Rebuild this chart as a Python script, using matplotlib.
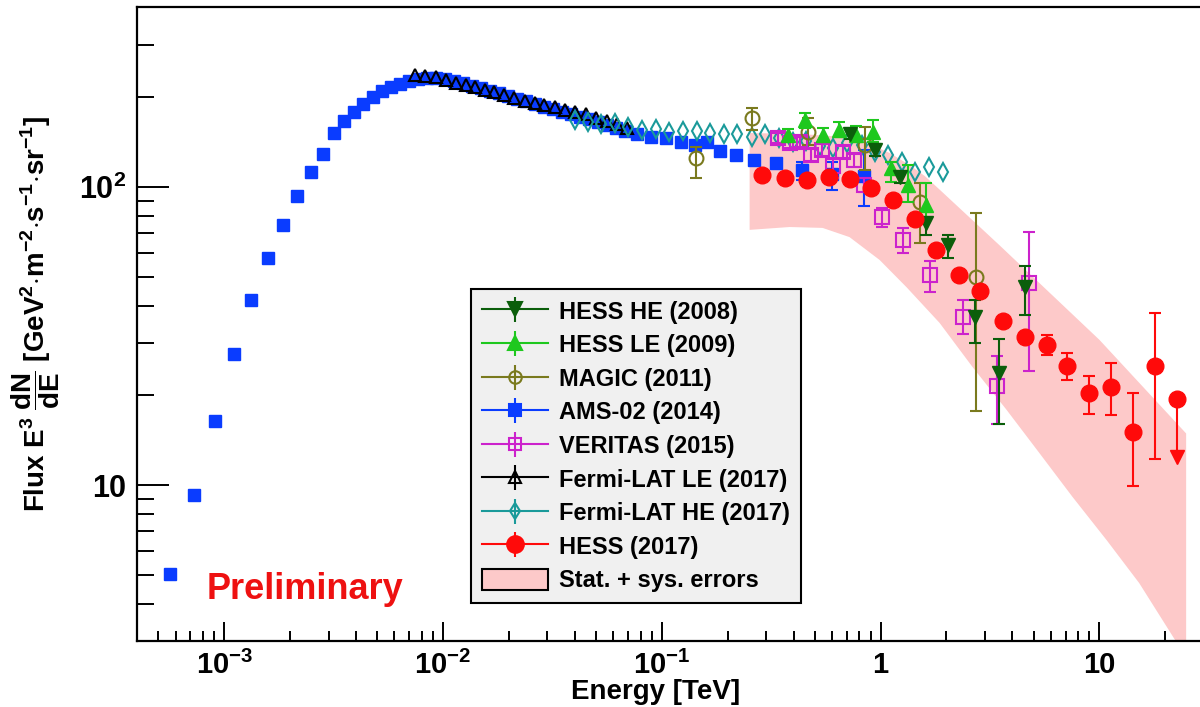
import numpy as np
import matplotlib
matplotlib.use("Agg")
import matplotlib.pyplot as plt
from matplotlib.lines import Line2D
from matplotlib.patches import Patch
from matplotlib.ticker import FixedLocator, LogLocator, NullFormatter

plt.rcParams['font.family'] = ['Liberation Sans', 'DejaVu Sans']
plt.rcParams['font.weight'] = 'bold'
plt.rcParams['mathtext.fontset'] = 'custom'
plt.rcParams['mathtext.rm'] = 'Liberation Sans:bold'
plt.rcParams['mathtext.it'] = 'Liberation Sans:bold'
plt.rcParams['mathtext.bf'] = 'Liberation Sans:bold'
plt.rcParams['mathtext.sf'] = 'Liberation Sans:bold'
plt.rcParams['mathtext.default'] = 'rm'

# ---- data (E in TeV, flux E^3 dN/dE) ----
ams_E = [5.67e-4, 7.30e-4, 9.10e-4, 1.11e-3, 1.33e-3, 1.59e-3, 1.86e-3, 2.15e-3,
         2.50e-3, 2.83e-3, 3.18e-3, 3.53e-3, 3.92e-3, 4.31e-3, 4.79e-3, 5.27e-3,
         5.79e-3, 6.36e-3, 7.00e-3, 7.69e-3, 8.45e-3, 9.29e-3, 1.02e-2, 1.12e-2,
         1.23e-2, 1.36e-2, 1.49e-2, 1.64e-2, 1.80e-2, 1.98e-2, 2.18e-2, 2.39e-2,
         2.63e-2, 2.89e-2, 3.18e-2, 3.49e-2, 3.84e-2, 4.22e-2, 4.64e-2, 5.10e-2,
         5.61e-2, 6.17e-2, 6.78e-2, 7.69e-2, 8.91e-2, 0.104, 0.123, 0.142,
         0.161, 0.184, 0.218, 0.263, 0.332, 0.436, 0.598, 0.836]
ams_F = [5.03, 9.26, 16.4, 27.5, 41.8, 57.8, 74.6, 93.3,
         112.3, 129.0, 151.8, 166.5, 178.5, 189.8, 200.5, 210.0,
         216.6, 221.6, 226.8, 230.3, 232.1, 232.1, 230.3, 226.8,
         223.4, 218.3, 214.9, 210.0, 206.8, 202.0, 197.4, 194.3,
         189.8, 185.6, 182.7, 178.5, 175.8, 171.8, 169.1, 165.2,
         161.5, 157.8, 154.1, 150.6, 147.2, 146.0, 141.6, 138.4,
         141.6, 132.1, 128.0, 123.2, 120.4, 114.0, 110.6, 108.9]
ams_err_E = [0.436, 0.598, 0.836]
ams_err_F = [114.0, 110.6, 108.9]
ams_err_lo = [105.6, 97.7, 86.3]
ams_err_hi = [121.3, 121.3, 133.1]

fle_E = [0.00745, 0.00828, 0.00929, 0.0103, 0.0115, 0.0127, 0.0140, 0.0156,
         0.0171, 0.0190, 0.0211, 0.0237, 0.0263, 0.0289, 0.0325, 0.0361,
         0.0401, 0.0450, 0.0500, 0.0561, 0.0623, 0.0692]
fle_F = [237.6, 235.8, 233.9, 228.6, 223.4, 220.0, 216.6, 211.6,
         208.4, 203.6, 198.9, 194.3, 191.4, 188.4, 185.6, 181.3,
         178.5, 175.8, 170.4, 166.5, 162.7, 157.8]

fhe_E = [0.0401, 0.0459, 0.0527, 0.0610, 0.0700, 0.0811, 0.0940, 0.108,
         0.125, 0.145, 0.166, 0.192, 0.220, 0.258, 0.295, 0.342,
         0.396, 0.455, 0.526, 0.604, 0.700, 0.819, 0.940, 1.08,
         1.25, 1.43, 1.66, 1.92]
fhe_F = [167.8, 165.2, 162.7, 163.9, 159.0, 155.4, 156.5, 152.9,
         154.1, 154.1, 151.8, 150.6, 150.6, 147.2, 150.6, 146.0,
         141.6, 142.7, 137.3, 135.2, 140.5, 138.4, 131.0, 128.0,
         121.3, 112.3, 116.7, 112.3]

mag_E = [0.143, 0.258, 0.465, 0.845, 1.52, 2.74]
mag_F = [125, 170, 153, 138, 89, 49.9]
mag_lo = [107, 155, 138, 114, 64.9, 17.7]
mag_hi = [136, 184, 170, 159, 103, 81.8]

ver_E = [0.339, 0.384, 0.427, 0.479, 0.538, 0.604, 0.670, 0.753,
         0.836, 1.01, 1.26, 1.69, 2.37, 3.39, 4.79]
ver_F = [146, 140.5, 141.6, 128.0, 133, 117.5, 131, 123,
         101.6, 79.3, 66.4, 50.7, 36.7, 21.5, 47.6]
ver_lo = [140, 135, 136, 122, 127, 107, 125, 117,
          96, 73.4, 60.1, 44.5, 32.2, 16.0, 24.2]
ver_hi = [152, 146, 147, 134, 139, 125, 137, 129,
          107, 85.1, 72.8, 56.5, 41.8, 27.1, 70.6]

hle_E = [0.376, 0.450, 0.543, 0.643, 0.769, 0.919, 1.11, 1.33, 1.62]
hle_F = [149.4, 167.9, 149.4, 155, 149.4, 153, 115.8, 101.6, 87]
hle_lo = [143, 158, 141.6, 147, 141.6, 141.6, 104, 89, 78.7]
hle_hi = [156, 177, 158, 165, 160, 168, 121, 118.5, 103]

hhe_E = [0.721, 0.939, 1.22, 1.61, 2.04, 2.69, 3.49, 4.55]
hhe_F = [150.6, 133, 108, 75.7, 63.8, 36.7, 23.8, 46.2]
hhe_lo = [145, 127, 103, 69.0, 57.8, 30.0, 16.0, 37.2]
hhe_hi = [157, 139, 112, 78.7, 69.0, 41.8, 30.9, 54.3]

hess_E = [0.286, 0.364, 0.459, 0.579, 0.721, 0.90, 1.135, 1.43, 1.80, 2.27,
          2.86, 3.61, 4.55, 5.73, 7.14, 9.0, 11.35, 14.3, 18.0]
hess_F = [110, 107.2, 105.6, 108.0, 106.4, 99.2, 90.4, 78.2, 61.5, 50.7,
          44.8, 35.5, 31.4, 29.5, 25.1, 20.4, 21.3, 15.1, 25.1]
hess_lo = [107, 104, 102.5, 105, 103, 96, 87.7, 75.8, 59.6, 49.2,
           43.4, 34.4, 30.4, 27.3, 22.5, 17.3, 17.2, 9.9, 12.2]
hess_hi = [113, 110.4, 108.8, 111.2, 109.6, 102.2, 93.1, 80.5, 63.3, 52.2,
           46.1, 36.6, 32.4, 31.9, 27.7, 23.2, 25.6, 20.4, 37.7]
hess_ul_E = [22.7]
hess_ul_F = [19.4]
hess_ul_end = [12.4]

band_E_up = [0.252, 0.427, 0.585, 0.721, 0.891, 1.10, 1.357, 1.59, 1.86, 3.49, 10.0, 24.9]
band_F_up = [151.7, 150.6, 148.3, 146.0, 139.3, 130.0, 118.5, 108.9, 98.0, 63.8, 30.7, 14.9]
band_E_lo = [0.252, 0.384, 0.543, 0.721, 0.99, 1.314, 1.86, 2.63, 3.76, 5.32,
             7.54, 10.8, 15.2, 22.5, 24.9]
band_F_lo = [71.8, 73.4, 72.9, 67.9, 56.9, 46.1, 35.0, 24.9, 17.9, 12.8,
             9.12, 6.53, 4.69, 2.97, 2.6]

labels = ["HESS HE (2008)", "HESS LE (2009)", "MAGIC (2011)", "AMS-02 (2014)",
          "VERITAS (2015)", "Fermi-LAT LE (2017)", "Fermi-LAT HE (2017)",
          "HESS (2017)", "Stat. + sys. errors"]

c_hhe = '#0b5e0b'
c_hle = '#1ec81e'
c_mag = '#7a7a1e'
c_ams = '#0a3cff'
c_ver = '#cc22cc'
c_fle = '#000000'
c_fhe = '#1a9a9a'
c_hess = '#ff0a0a'
c_band = '#fdc9c9'

fig = plt.figure(figsize=(12, 7.07), dpi=100)
ax = fig.add_axes([0.1142, 0.0934, 0.889, 0.896])
ax.set_xscale('log')
ax.set_yscale('log')
ax.set_xlim(4e-4, 30)
ax.set_ylim(3, 400)

ebar = dict(elinewidth=1.5, capsize=4, capthick=1.5, linestyle='none')


def yerr(F, lo, hi):
    F = np.array(F)
    return [F - np.array(lo), np.array(hi) - F]


# band
ax.fill(np.concatenate([band_E_up, band_E_lo[::-1]]),
        np.concatenate([band_F_up, band_F_lo[::-1]]),
        color=c_band, lw=0, zorder=1)

# AMS-02
ax.errorbar(ams_err_E, ams_err_F, yerr=yerr(ams_err_F, ams_err_lo, ams_err_hi),
            fmt='none', ecolor=c_ams, elinewidth=1.5, capsize=4, capthick=1.5, zorder=2)
ax.plot(ams_E, ams_F, 's', color=c_ams, ms=8, zorder=3)

# Fermi-LAT
ax.plot(fle_E, fle_F, '^', mfc='none', mec=c_fle, mew=1.5, ms=9, zorder=4)
ax.plot(fhe_E, fhe_F, 'd', mfc='none', mec=c_fhe, mew=1.5, ms=9, zorder=4)

# VERITAS
ax.errorbar(ver_E, ver_F, yerr=yerr(ver_F, ver_lo, ver_hi), fmt='s', color=c_ver,
            mfc='none', mec=c_ver, mew=1.5, ms=10, zorder=5, **ebar)
# MAGIC
ax.errorbar(mag_E, mag_F, yerr=yerr(mag_F, mag_lo, mag_hi), fmt='o', color=c_mag,
            mfc='none', mec=c_mag, mew=1.5, ms=10, zorder=5, **ebar)
# HESS LE / HE
ax.errorbar(hle_E, hle_F, yerr=yerr(hle_F, hle_lo, hle_hi), fmt='^', color=c_hle,
            ms=10, zorder=6, **ebar)
ax.errorbar(hhe_E, hhe_F, yerr=yerr(hhe_F, hhe_lo, hhe_hi), fmt='v', color=c_hhe,
            ms=10, zorder=6, **ebar)
# HESS 2017
ax.errorbar(hess_E, hess_F, yerr=yerr(hess_F, hess_lo, hess_hi), fmt='o', color=c_hess,
            ms=12, zorder=7, **ebar)
ax.plot([hess_ul_E[0], hess_ul_E[0]], [hess_ul_F[0], hess_ul_end[0]], color=c_hess, lw=1.5, zorder=7)
ax.plot(hess_ul_E, hess_ul_end, 'v', color=c_hess, ms=10, zorder=7)
ax.plot(hess_ul_E, hess_ul_F, 'o', color=c_hess, ms=12, zorder=7)

# axes styling
for s in ['top', 'right', 'left', 'bottom']:
    ax.spines[s].set_linewidth(1.6)
ax.xaxis.set_major_locator(FixedLocator([1e-3, 1e-2, 1e-1, 1, 10]))
ax.set_xticklabels([r'10$^{-3}$', r'10$^{-2}$', r'10$^{-1}$', '1', '10'])
ax.xaxis.set_minor_locator(LogLocator(base=10, subs=np.arange(2, 10), numticks=20))
ax.xaxis.set_minor_formatter(NullFormatter())
ax.yaxis.set_major_locator(FixedLocator([10, 100]))
ax.set_yticklabels(['10', r'10$^{2}$'])
ax.yaxis.set_minor_locator(LogLocator(base=10, subs=np.arange(2, 10), numticks=20))
ax.yaxis.set_minor_formatter(NullFormatter())
ax.tick_params(axis='x', which='major', direction='in', length=14, width=1.4, pad=7, labelsize=21)
ax.tick_params(axis='x', which='minor', direction='in', length=7, width=1.4)
ax.tick_params(axis='y', which='major', direction='in', length=23, width=1.4, pad=8, labelsize=22)
ax.tick_params(axis='y', which='minor', direction='in', length=12, width=1.4)

fig.text(656 / 1200, 1 - 692 / 707, 'Energy [TeV]', ha='center', va='center', fontsize=20)
fig.text(36 / 1200, 1 - 314 / 707,
         r'Flux E$^{3}$ $\dfrac{dN}{dE}$ [GeV$^{2}$$\cdot$m$^{-2}$$\cdot$s$^{-1}$$\cdot$sr$^{-1}$]',
         rotation=90, ha='center', va='center', fontsize=20)

ax.text(0.157, 0.0805, 'Preliminary', transform=ax.transAxes, color='#ee1111',
        fontsize=26, ha='center', va='center')

# legend
def lep(c, m, filled, ms):
    return (Line2D([], [], color=c, lw=1.5),
            Line2D([], [], color=c, marker='|', ms=18, mew=1.5, ls='none'),
            Line2D([], [], color=c, marker=m, ms=ms, mew=1.5, ls='none',
                   mfc=c if filled else 'none', mec=c))

handles = [lep(c_hhe, 'v', True, 10), lep(c_hle, '^', True, 10), lep(c_mag, 'o', False, 9),
           lep(c_ams, 's', True, 8), lep(c_ver, 's', False, 9), lep(c_fle, '^', False, 9),
           lep(c_fhe, 'd', False, 8), lep(c_hess, 'o', True, 12),
           Patch(facecolor=c_band, edgecolor='black', lw=1.5)]
leg = ax.legend(handles, labels, loc='lower left', bbox_to_anchor=(0.313, 0.060),
                fontsize=17, frameon=True, fancybox=False, framealpha=1,
                edgecolor='black', facecolor='#f0f0f0', labelspacing=0.42,
                handlelength=2.8, handleheight=1.0, handletextpad=0.5,
                borderpad=0.45, borderaxespad=0)
leg.get_frame().set_linewidth(1.5)
leg.set_zorder(10)

fig.savefig('out.png', dpi=100)
